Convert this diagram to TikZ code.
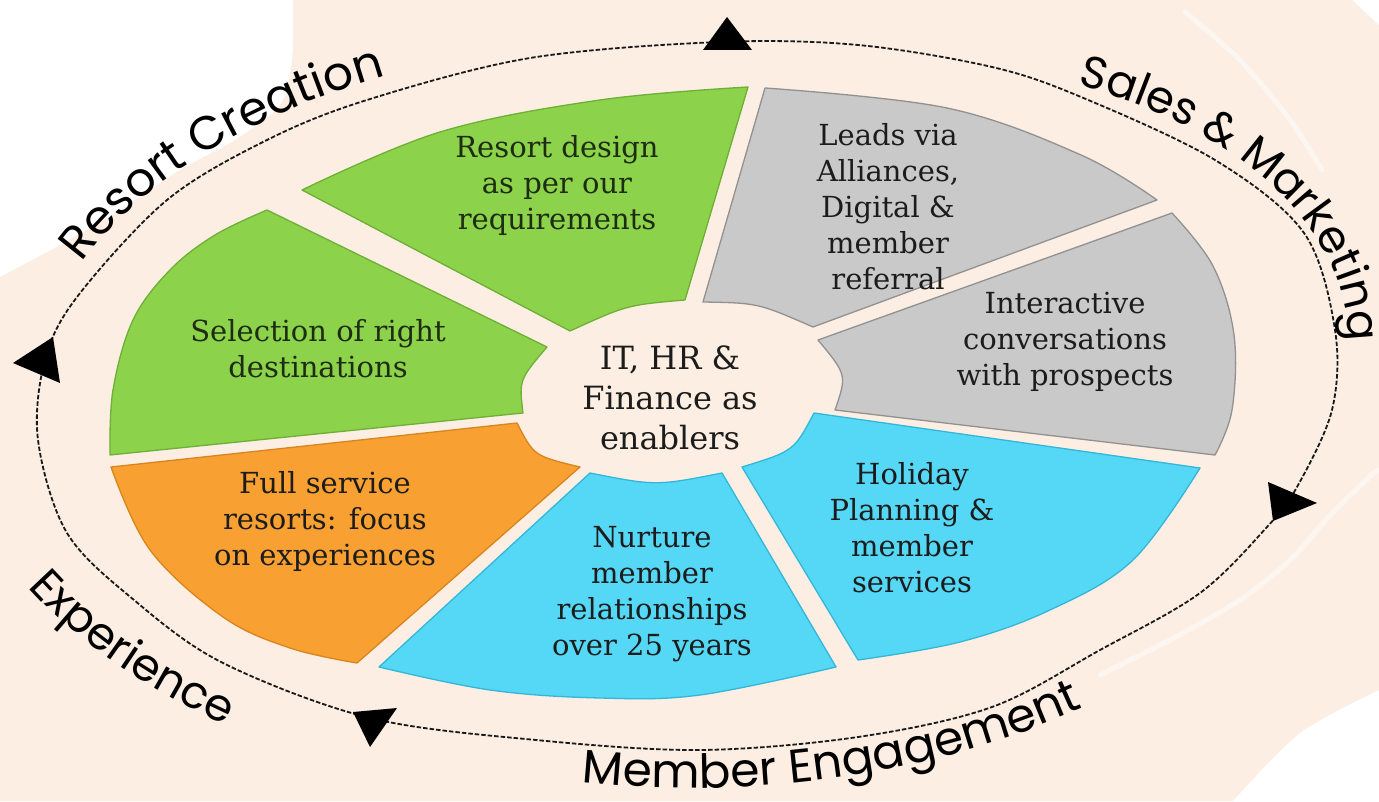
\documentclass[tikz,border=0pt]{standalone}
\usepackage{fontspec}
\usetikzlibrary{decorations.text}
\newfontfamily\segfam{DejaVu Serif}
\newfontfamily\lblfam{Poppins}
\newcommand\lblstyle{\lblfam\fontsize{45}{45}\selectfont}
\newcommand\lblstylebig{\lblfam\fontsize{47}{47}\selectfont}
\definecolor{peach}{HTML}{FCEEE2}
\definecolor{segGreen}{HTML}{8DD24B}
\definecolor{segGreenD}{HTML}{6EAF35}
\definecolor{segGray}{HTML}{C9C9C9}
\definecolor{segGrayD}{HTML}{919191}
\definecolor{segCyan}{HTML}{55D8F6}
\definecolor{segCyanD}{HTML}{34B6D8}
\definecolor{segOrange}{HTML}{F8A132}
\definecolor{segOrangeD}{HTML}{D9851E}
\definecolor{ink}{HTML}{1C1C1C}
\definecolor{inkG}{HTML}{1E2C12}
\begin{document}
\begin{tikzpicture}[x=1pt,y=1pt,
  seg/.style={line width=1.3pt, line join=round},
  segtext/.style={font=\segfam\fontsize{29}{36}\selectfont, align=center, inner sep=0pt, text=ink},
  hubtext/.style={font=\segfam\fontsize{32}{40}\selectfont, align=center, inner sep=0pt, text=ink},
  cyclepath/.style={line width=1.8pt, draw=black!90, dash pattern=on 4.5pt off 2pt},
  arrowtri/.style={fill=black},
  torn/.style={draw=white, line width=5pt, opacity=0.5, line cap=round, line join=round}]
\useasboundingbox (0,0) rectangle (1379,801);
\fill[white] (0,0) rectangle (1379,801);
\begin{scope}[yshift=801pt, y=-1pt]
  % background
  \fill[peach] plot[smooth, tension=0.5] coordinates {(0,277) (60,245) (120,210) (180,170) (235,140) (280,105) (292,60) (293,0)}
     -- (1352,0) -- (1379,25) -- (1379,690)
     -- plot[smooth, tension=0.5] coordinates {(1379,690) (1300,733) (1233,801)}
     -- (0,801) -- cycle;
  \draw[torn] plot[smooth, tension=0.5] coordinates {(1185,12) (1240,60) (1290,120) (1322,170)};
  \draw[torn] plot[smooth, tension=0.5] coordinates {(1377,470) (1335,510) (1290,560) (1240,600) (1170,640) (1100,675)};
  % dashed cycle
  \draw[cyclepath] plot[smooth cycle, tension=0.55] coordinates {
    (38,440) (45,360) (77,297) (167,200) (267,140) (367,100) (530,58) (720,42)
    (858,45) (992,67) (1081,97) (1215,160) (1304,233) (1335,330) (1332,410)
    (1297,487) (1267,527) (1200,593) (1100,650) (992,707) (858,737) (700,750)
    (536,740) (370,718) (223,663) (134,600) (67,533)};
  % arrow heads
  \fill[arrowtri] (703,50) -- (752,50) -- (727,17) -- cycle;
  \fill[arrowtri] (13,363) -- (53,337) -- (60,383) -- cycle;
  \fill[arrowtri] (353,712) -- (397,708) -- (370,747) -- cycle;
  \fill[arrowtri] (1268,482) -- (1273,521) -- (1317,503) -- cycle;
  % segments
  \filldraw[seg, fill=segGreen, draw=segGreenD]
    plot[smooth, tension=0.6] coordinates {(302,190) (440,132) (600,100) (748,87)}
    -- (685,300) .. controls (627,305) .. (570,331) -- cycle;
  \filldraw[seg, fill=segGreen, draw=segGreenD]
    plot[smooth, tension=0.6] coordinates {(267,210) (215,235) (170,270) (133,320) (113,390) (110,455)}
    -- (523,413) .. controls (519,380) .. (547,347) -- cycle;
  \filldraw[seg, fill=segOrange, draw=segOrangeD]
    plot[smooth, tension=0.6] coordinates {(111,467) (150,550) (223,617) (290,648) (357,663)}
    -- (580,467) .. controls (534,456) .. (517,423) -- cycle;
  \filldraw[seg, fill=segCyan, draw=segCyanD]
    plot[smooth, tension=0.6] coordinates {(379,667) (490,690) (600,698) (700,695) (836,667)}
    -- (722,473) .. controls (656,486) .. (590,473) -- cycle;
  \filldraw[seg, fill=segCyan, draw=segCyanD]
    plot[smooth, tension=0.6] coordinates {(858,660) (960,642) (1050,610) (1133,560) (1200,468)}
    -- (814,413) .. controls (794,451) .. (742,467) -- cycle;
  \filldraw[seg, fill=segGray, draw=segGrayD]
    plot[smooth, tension=0.6] coordinates {(1172,213) (1213,266) (1234,335) (1232,410) (1215,455)}
    -- (835,410) .. controls (847,375) .. (818,340) -- cycle;
  \filldraw[seg, fill=segGray, draw=segGrayD]
    plot[smooth, tension=0.6] coordinates {(765,88) (947,108) (1081,155) (1157,200)}
    -- (813,327) .. controls (758,303) .. (703,302) -- cycle;
  % texts
  \node[segtext, text=inkG] (rd) at (557,186) {Resort design\\as per our\\requirements};
  \node[segtext, text=inkG] (sel) at (318,349) {Selection of right\\destinations};
  \node[segtext] (fs) at (325,522) {Full service\\resorts: focus\\on experiences};
  \node[segtext] (nur) at (652,594) {Nurture\\member\\relationships\\over 25 years};
  \node[segtext] (hol) at (912,528) {Holiday\\Planning \&\\member\\services};
  \node[segtext] (int) at (1065,342) {Interactive\\conversations\\with prospects};
  \node[segtext] (leads) at (888,207) {Leads via\\Alliances,\\Digital \&\\member\\referral};
  \node[hubtext] (hub) at (670,398) {IT, HR \&\\Finance as\\enablers};
\end{scope}
% curved labels (y-up coordinates)
\path[decorate, decoration={text along path, text={|\lblstylebig|Resort Creation}}]
  ([shift={(158:656 and 366)}]690,401) arc[start angle=158, end angle=95, x radius=656, y radius=366];
\path[decorate, decoration={text along path, text={|\lblstyle|Sales {\&} Marketing}}]
  ([shift={(66.6:448 and 278)}]900,461) arc[start angle=66.6, end angle=-35, x radius=448, y radius=278];
\path[decorate, decoration={text along path, text={|\lblstylebig|Member Engagement}}]
  ([shift={(260.4:648 and 393)}]690,406) arc[start angle=260.4, end angle=335, x radius=648, y radius=393];
\path[decorate, decoration={text along path, text={|\lblstyle|Experience}}]
  ([shift={(207:743 and 423)}]690,406) arc[start angle=207, end angle=255, x radius=743, y radius=423];
\end{tikzpicture}
\end{document}
